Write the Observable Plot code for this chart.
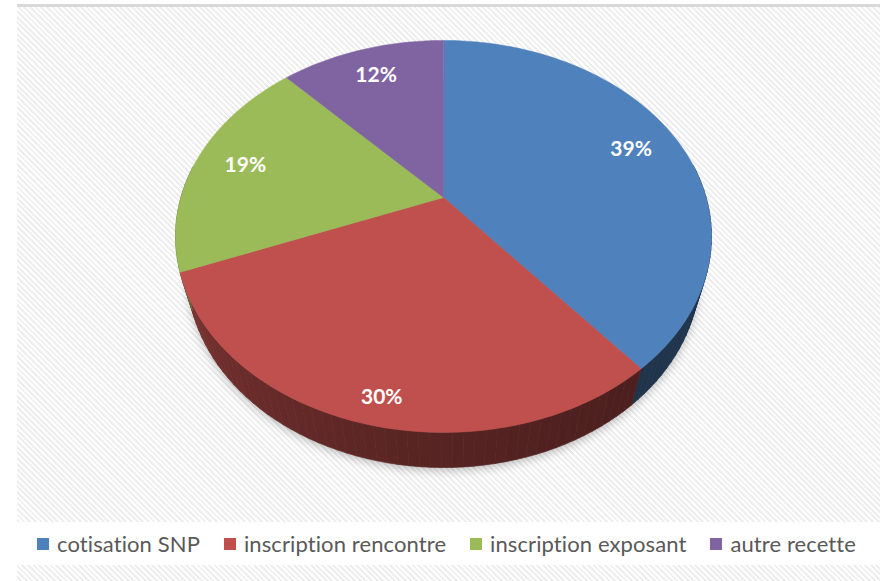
<!DOCTYPE html>
<html><head><meta charset="utf-8">
<script src="https://cdn.jsdelivr.net/npm/d3@7"></script>
<script src="https://cdn.jsdelivr.net/npm/@observablehq/plot@0.6"></script>
<style>
body{margin:0;background:#fff;font-family:Lato,"Open Sans",sans-serif}
#frame{position:relative;width:885px;height:581px;overflow:hidden}
#hatch{position:absolute;left:17px;top:7px;width:863px;height:574px;background:repeating-linear-gradient(45deg,#ffffff 0px,#ffffff 2px,#eeeeee 2px,#eeeeee 4px)}
#topline{position:absolute;left:17px;top:4px;width:863px;height:3px;background:#d9d9d9}
#band{position:absolute;left:17px;top:522px;width:863px;height:43px;background:#fff}
#chart{position:absolute;left:0;top:0}
#legend{position:absolute;left:37px;top:522px;height:43px;display:flex;align-items:center;font-size:22px;letter-spacing:0.1px;color:#595959;white-space:nowrap}
.item{display:flex;align-items:center;margin-right:24px}
.sw{width:12px;height:12px;margin-right:8px}
</style></head><body>
<div id="frame"><div id="topline"></div><div id="hatch"></div><div id="band"></div><div id="chart"></div><div id="legend"></div></div>
<script>
const categories = ["cotisation SNP","inscription rencontre","inscription exposant","autre recette"];
const values = [39, 30, 19, 12];
const colors = ["#4f81bd","#c0504d","#9bbb59","#8064a2"];
const labels = ["39%","30%","19%","12%"];

// 3D perspective pie geometry
const tilt = 45.8 * Math.PI / 180, R = 0.285, D = 1, H = 0.0626;
function project(phiDeg, r, depth) {
  const p = phiDeg * Math.PI / 180;
  const X = R * r * Math.cos(p);
  const z = R * r * Math.sin(p);
  const Y = z * Math.sin(tilt) + depth * H * Math.cos(tilt);
  const Z = D - z * Math.cos(tilt) + depth * H * Math.sin(tilt);
  return {x: X / Z, y: Y / Z};
}
function shade(hex, phi) {
  const t = Math.max(0, Math.min(1, (phi - 50) / 110));
  const f = 0.40 + 0.25 * Math.pow(t, 1.6);
  const c = d3.rgb(hex);
  return d3.rgb(c.r * f, c.g * f, c.b * f).formatHex();
}

const total = d3.sum(values);
const slices = [];
let start = -90;
values.forEach((v, i) => {
  const end = start + v / total * 360;
  slices.push({i, a: start, b: end});
  start = end;
});

const topPts = [], sidePts = [], shadowPts = [], labelPts = [];
slices.forEach(s => {
  const id = "top" + s.i;
  topPts.push({id, color: colors[s.i], ...project(0, 0, 0)});
  const n = Math.max(2, Math.ceil((s.b - s.a) / 1));
  for (let j = 0; j <= n; j++) {
    const phi = s.a + (s.b - s.a) * j / n;
    topPts.push({id, color: colors[s.i], ...project(phi, 1, 0)});
  }
  // side wall (visible front part)
  const a = Math.max(s.a, -10), b = Math.min(s.b, 190);
  if (b > a) {
    const m = Math.max(1, Math.ceil((b - a) / 2));
    for (let j = 0; j < m; j++) {
      const p0 = a + (b - a) * j / m, p1 = a + (b - a) * (j + 1) / m;
      const sid = "side" + s.i + "_" + j;
      const col = shade(colors[s.i], (p0 + p1) / 2);
      [project(p0, 1, 0), project(p1, 1, 0), project(p1, 1, 1), project(p0, 1, 1)]
        .forEach(pt => sidePts.push({id: sid, color: col, ...pt}));
    }
  }
  // label
  const mid = (s.a + s.b) / 2;
  const lp = project(mid, 0.8, 0);
  const drop = 28 / 921.4 * Math.max(0, Math.sin(mid * Math.PI / 180));
  labelPts.push({text: labels[s.i], x: lp.x, y: lp.y + drop});
});
for (let phi = 0; phi < 360; phi += 2) shadowPts.push(project(phi, 1.0, 1));

const k = 921.4, cx = 443, cy = 197;
const plot = Plot.plot({
  width: 885, height: 520, margin: 0,
  style: {background: "transparent", overflow: "visible"},
  x: {domain: [-1, 1], range: [cx - k, cx + k], axis: null},
  y: {domain: [-1, 1], range: [cy - k, cy + k], axis: null},
  color: {type: "identity"},
  marks: [
    Plot.line(shadowPts, {x: "x", y: "y", fill: "#000", fillOpacity: 0.25, stroke: "none", curve: "linear-closed", dy: 3, imageFilter: "blur(5px)"}),
    Plot.line(sidePts, {x: "x", y: "y", z: "id", fill: "color", stroke: "color", strokeWidth: 0.7, curve: "linear-closed"}),
    Plot.line(topPts, {x: "x", y: "y", z: "id", fill: "color", stroke: "color", strokeWidth: 0.5, curve: "linear-closed"}),
    Plot.text(labelPts, {x: "x", y: "y", text: "text", fill: "white", fontSize: 21, fontWeight: "bold", fontFamily: "Lato, 'Open Sans', sans-serif"})
  ]
});
document.getElementById("chart").appendChild(plot);

const legend = document.getElementById("legend");
categories.forEach((c, i) => {
  const it = document.createElement("div");
  it.className = "item";
  const sw = document.createElement("span");
  sw.className = "sw";
  sw.style.background = colors[i];
  const tx = document.createElement("span");
  tx.textContent = c;
  it.appendChild(sw); it.appendChild(tx);
  legend.appendChild(it);
});
</script>
</body></html>
